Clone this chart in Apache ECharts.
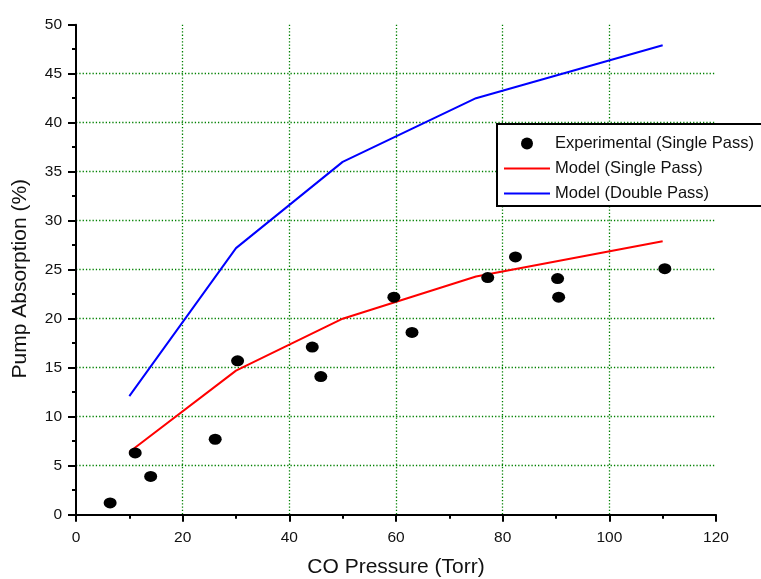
<!DOCTYPE html>
<html>
<head>
<meta charset="utf-8">
<script src="https://cdn.jsdelivr.net/npm/echarts@6/dist/echarts.min.js"></script>
<style>
  html, body { margin: 0; padding: 0; background: #fff; }
  #chart { width: 761px; height: 579px; }
</style>
</head>
<body>
<div id="chart"></div>
<script>
// Measured single-pass absorption: [CO pressure (Torr), absorption (%)]
const experimental = [
  [6.4, 1.2], [11.1, 6.3], [14.0, 3.9], [26.1, 7.7], [30.3, 15.7],
  [44.3, 17.1], [45.9, 14.1], [59.6, 22.2], [63.0, 18.6], [77.2, 24.2],
  [82.4, 26.3], [90.3, 24.1], [90.5, 22.2], [110.4, 25.1]
];
// Model curves evaluated at the same pressures
const modelPressures = [10, 30, 50, 75, 110];
const modelSingle = [6.4, 14.7, 20.0, 24.3, 27.9];
const modelDouble = [12.1, 27.2, 36.0, 42.5, 47.9];

const xTicks = [0, 20, 40, 60, 80, 100, 120];
const yTicks = [0, 5, 10, 15, 20, 25, 30, 35, 40, 45, 50];

const zip = (xs, ys) => xs.map((x, i) => [x, ys[i]]);
const font = 'Liberation Sans, Arial, sans-serif';
const gridLine = { show: true, showMinLine: false, showMaxLine: false,
  lineStyle: { color: '#008000', width: 1.3, type: [1.3, 2] } };

const chart = echarts.init(document.getElementById('chart'), null, { renderer: 'canvas' });
chart.setOption({
  animation: false,
  backgroundColor: '#fff',
  textStyle: { fontFamily: font },
  grid: { left: 76, right: 45, top: 24.7, bottom: 64.3, containLabel: false, outerBoundsMode: 'none' },
  xAxis: {
    type: 'value',
    min: xTicks[0], max: xTicks[xTicks.length - 1], interval: 20,
    name: 'CO Pressure (Torr)', nameLocation: 'middle', nameGap: 42,
    nameTextStyle: { fontSize: 21, color: '#111', fontFamily: font },
    axisLine: { show: true, onZero: false, lineStyle: { color: '#000', width: 2 } },
    axisTick: { show: true, inside: false, length: 7, lineStyle: { color: '#000', width: 2 } },
    minorTick: { show: true, splitNumber: 2, length: 4, lineStyle: { color: '#000', width: 2 } },
    axisLabel: { fontSize: 15.5, color: '#111', margin: 15, fontFamily: font },
    splitLine: gridLine
  },
  yAxis: {
    type: 'value',
    min: yTicks[0], max: yTicks[yTicks.length - 1], interval: 5,
    name: 'Pump Absorption (%)', nameLocation: 'middle', nameGap: 45,
    nameTextStyle: { fontSize: 21, color: '#111', fontFamily: font, padding: [0, 18, 0, 0] },
    axisLine: { show: true, onZero: false, lineStyle: { color: '#000', width: 2 } },
    axisTick: { show: true, inside: false, length: 8, lineStyle: { color: '#000', width: 2 } },
    minorTick: { show: true, splitNumber: 2, length: 4, lineStyle: { color: '#000', width: 2 } },
    axisLabel: { fontSize: 15.5, color: '#111', margin: 14, fontFamily: font },
    splitLine: gridLine
  },
  legend: {
    show: true, orient: 'vertical', left: 497, top: 124,
    backgroundColor: '#fff', z: 10,
    borderColor: '#000', borderWidth: 2, borderRadius: 0,
    padding: [11, 12, 4, 6], itemGap: 8, itemWidth: 46, itemHeight: 12,
    textStyle: { fontSize: 16.5, color: '#111', fontFamily: font },
    data: [
      { name: 'Experimental (Single Pass)', icon: 'circle' },
      { name: 'Model (Single Pass)', itemStyle: { opacity: 0 } },
      { name: 'Model (Double Pass)', itemStyle: { opacity: 0 } }
    ]
  },
  series: [
    {
      name: 'Experimental (Single Pass)', type: 'scatter',
      data: experimental, symbol: 'circle', symbolSize: [13, 11],
      itemStyle: { color: '#000', opacity: 1 }, z: 5
    },
    {
      name: 'Model (Single Pass)', type: 'line',
      data: zip(modelPressures, modelSingle), symbol: 'none',
      lineStyle: { color: '#ff0000', width: 2 }, itemStyle: { color: '#ff0000' }
    },
    {
      name: 'Model (Double Pass)', type: 'line',
      data: zip(modelPressures, modelDouble), symbol: 'none',
      lineStyle: { color: '#0000ff', width: 2 }, itemStyle: { color: '#0000ff' }
    }
  ]
});
</script>
</body>
</html>
